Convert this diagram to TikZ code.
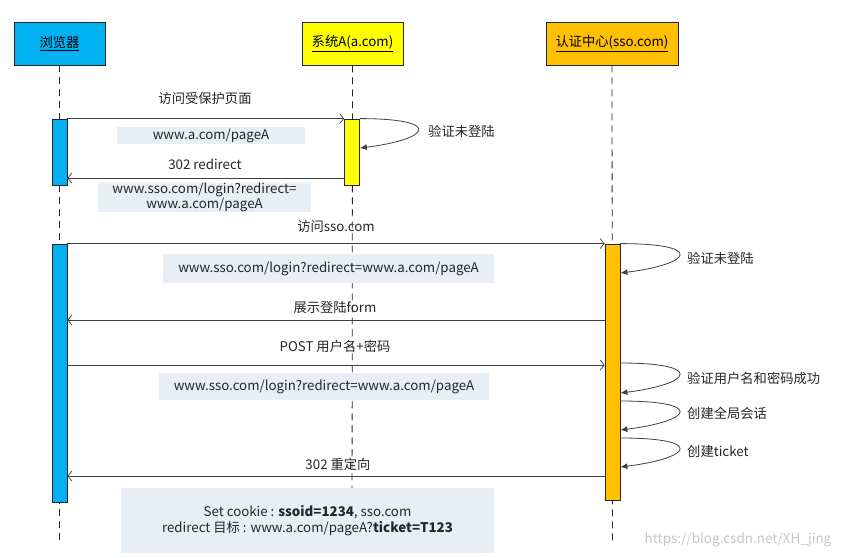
\documentclass[tikz,border=0pt]{standalone}
\usepackage{fontspec}
\setmainfont{Noto Sans CJK SC}
\usetikzlibrary{arrows.meta}
\definecolor{cB}{HTML}{00B0F0}
\definecolor{cA}{HTML}{FFFF00}
\definecolor{cS}{HTML}{FFC000}
\definecolor{notefill}{HTML}{E8EEF6}
\definecolor{ln}{HTML}{404040}
\begin{document}
\begin{tikzpicture}[x=1pt,y=-1pt,
  font=\fontsize{13.3}{15}\selectfont,
  head/.style={draw=black!85, line width=0.9pt, minimum height=43pt, inner sep=0pt},
  bar/.style={draw=black!85, line width=0.8pt, minimum width=15pt, inner sep=0pt},
  life/.style={draw=black!85, line width=0.8pt, dash pattern=on 7pt off 5pt},
  msg/.style={draw=ln, line width=0.8pt, -{Straight Barb[length=4pt,width=10pt,line width=0.7pt]}},
  selfloop/.style={draw=ln, line width=0.8pt, -{Latex[length=7pt,width=6pt]}},
  note/.style={fill=notefill, inner sep=0pt, align=center, text=black!85},
  lbl/.style={inner sep=0pt, text=black!85},
]
\useasboundingbox (0,0) rectangle (848,557);
\fill[white] (0,0) rectangle (848,557);

% headers
\node[head, fill=cB, minimum width=91pt] (hB) at (59.5,43.5) {\underline{浏览器}};
\node[head, fill=cA, minimum width=101pt] (hA) at (352.5,43.5) {\underline{系统A(a.com)}};
\node[head, fill=cS, minimum width=132pt] (hS) at (612,43.5) {\underline{认证中心(sso.com)}};

% lifelines
\coordinate (eB) at (59.5,545);
\coordinate (eA) at (352,545);
\coordinate (eS) at (612.5,545);
\draw[life] (hB.south) -- (eB);
\draw[life] (hA.south) -- (eA);
\draw[life] (hS.south) -- (eS);

% activation bars
\node[bar, fill=cB, minimum height=66pt] (bB1) at (59.5,152) {};
\node[bar, fill=cA, minimum height=66pt] (bA1) at (352,152) {};
\node[bar, fill=cB, minimum height=258pt] (bB2) at (59.5,373) {};
\node[bar, fill=cS, minimum height=256pt] (bS) at (612.5,372) {};

% message y levels
\coordinate (y2) at (0,178);
\coordinate (y4) at (0,320);
\coordinate (y5) at (0,365);
\coordinate (y6) at (0,476);
\coordinate (r1) at (0,148);
\coordinate (r2) at (0,273);
\coordinate (s3) at (0,363);
\coordinate (r3) at (0,393);
\coordinate (s4) at (0,401);
\coordinate (r4) at (0,430);
\coordinate (s5) at (0,438);
\coordinate (r5) at (0,467);

% messages
\draw[msg] (bB1.north east) -- (bA1.north west);
\draw[msg] (bA1.west |- y2) -- (bB1.east |- y2);
\draw[msg] (bB2.north east) -- (bS.north west);
\draw[msg] (bS.west |- y4) -- (bB2.east |- y4);
\draw[msg] (bB2.east |- y5) -- (bS.west |- y5);
\draw[msg] (bS.west |- y6) -- (bB2.east |- y6);

% self loops
\draw[selfloop] (bA1.north east) .. controls +(83,0) and +(72,-9) .. (bA1.east |- r1);
\draw[selfloop] (bS.north east) .. controls +(85,0) and +(72,-9) .. (bS.east |- r2);
\draw[selfloop] (bS.east |- s3) .. controls +(85,0) and +(72,-9) .. (bS.east |- r3);
\draw[selfloop] (bS.east |- s4) .. controls +(85,0) and +(72,-9) .. (bS.east |- r4);
\draw[selfloop] (bS.east |- s5) .. controls +(85,0) and +(72,-9) .. (bS.east |- r5);

% message labels
\node[lbl] (t1) at (205,98) {访问受保护页面};
\node[lbl] (t2) at (205,164) {302 redirect};
\node[lbl] (t3) at (336,226) {访问sso.com};
\node[lbl] (t4) at (335,307) {展示登陆form};
\node[lbl] (t5) at (335,346) {POST 用户名+密码};
\node[lbl] (t6) at (338,464) {302 重定向};

% loop labels
\node[lbl, anchor=west] (l1) at (428,131) {验证未登陆};
\node[lbl, anchor=west] (l2) at (687,258) {验证未登陆};
\node[lbl, anchor=west] (l3) at (687,378) {验证用户名和密码成功};
\node[lbl, anchor=west] (l4) at (687,413) {创建全局会话};
\node[lbl, anchor=west] (l5) at (687,451) {创建ticket};

% notes
\node[note, minimum width=188pt, minimum height=17pt] (n1) at (211,135.5) {www.a.com/pageA};
\node[note, minimum width=213pt, minimum height=27pt, font=\fontsize{13.3}{13.5}\selectfont] (n2) at (204.5,197.5) {www.sso.com/login?redirect=\\www.a.com/pageA};
\node[note, minimum width=331pt, minimum height=29pt] (n3) at (328.5,268.5) {www.sso.com/login?redirect=www.a.com/pageA};
\node[note, minimum width=330pt, minimum height=27pt] (n4) at (324,386.5) {www.sso.com/login?redirect=www.a.com/pageA};
\node[note, minimum width=373pt, minimum height=65pt, font=\fontsize{13.3}{16}\selectfont] (n5) at (307.5,520.5) {Set cookie : \textbf{ssoid=1234}, sso.com\\redirect 目标 : www.a.com/pageA?\textbf{ticket=T123}};

% watermark
\node[inner sep=0pt, text=black!22, font=\fontsize{13.5}{15}\selectfont] (wm) at (738,540) {https://blog.csdn.net/XH\_jing};
\end{tikzpicture}
\end{document}
